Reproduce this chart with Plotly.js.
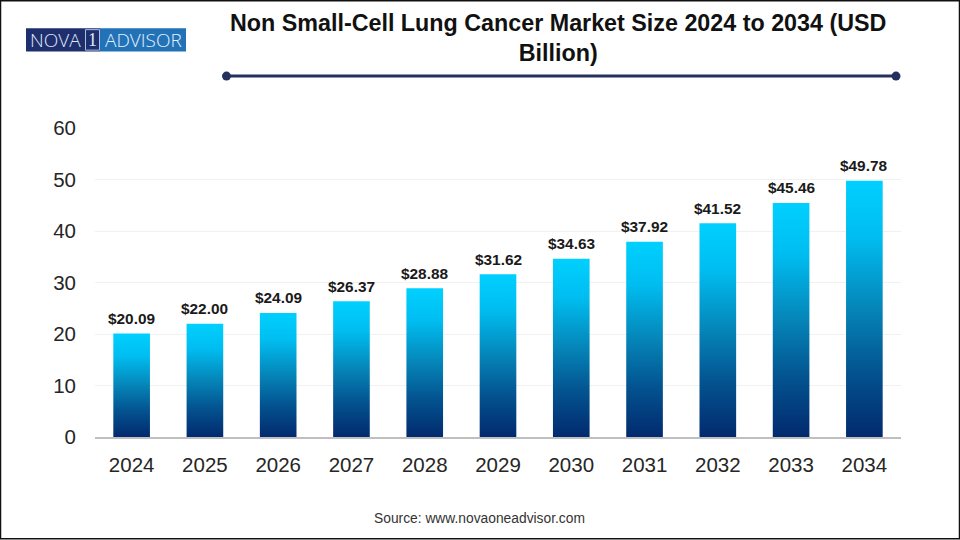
<!DOCTYPE html>
<html>
<head>
<meta charset="utf-8">
<script src="https://cdn.plot.ly/plotly-3.0.1.min.js"></script>
<style>html,body{margin:0;padding:0;background:#fff}#chart{width:960px;height:540px}</style>
</head>
<body>
<div id="chart"></div>
<script>
const years = ['2024','2025','2026','2027','2028','2029','2030','2031','2032','2033','2034'];
const marketSize = [20.09,22.00,24.09,26.37,28.88,31.62,34.63,37.92,41.52,45.46,49.78];
const valueLabels = ['$20.09','$22.00','$24.09','$26.37','$28.88','$31.62','$34.63','$37.92','$41.52','$45.46','$49.78'];
const yTicks = [0,10,20,30,40,50,60];
const titleText = 'Non Small-Cell Lung Cancer Market Size 2024 to 2034 (USD<br>Billion)';
const sourceText = 'Source: www.novaoneadvisor.com';
const font = '"Liberation Sans", Arial, sans-serif';
const navy = '#24305e';

const px = x => (x - 95) / 806;
const py = y => (437.5 - y) / 309.5;
const box = (type, x0, x1, y0, y1, extra) => Object.assign({type, xref:'paper', yref:'paper', x0:px(x0), x1:px(x1), y0:py(y0), y1:py(y1), layer:'above'}, extra);
const note = (text, x, y, f, extra) => Object.assign({text, xref:'paper', yref:'paper', x:px(x), y:py(y), xanchor:'center', yanchor:'middle', showarrow:false, font:f}, extra);

const trace = {
  type: 'bar', x: years, y: marketSize, width: 0.5,
  marker: {color: '#0a7fb5', line: {width: 0}},
  hoverinfo: 'x+y'
};

const barLabels = years.map((yr, i) => ({
  text: valueLabels[i], x: i, y: marketSize[i], xref:'x', yref:'y',
  xanchor:'center', yanchor:'middle', yshift: 15, showarrow:false,
  font:{family:font, size:15.4, color:'#1a1a1a', weight:700}
}));

const layout = {
  width: 960, height: 540, autosize: false, showlegend: false,
  paper_bgcolor: '#fff', plot_bgcolor: '#fff',
  margin: {l: 95, r: 59, t: 128, b: 102.5, pad: 0},
  font: {family: font},
  bargap: 0.5,
  xaxis: {
    type: 'category', categoryorder: 'array', categoryarray: years, range: [-0.5, 10.5],
    showgrid: false, zeroline: false,
    showline: true, linecolor: '#bfbfbf', linewidth: 2,
    ticks: '', ticklabelstandoff: 8,
    tickfont: {family: font, size: 20.5, color: '#262626'}
  },
  yaxis: {
    range: [0, 60], tickvals: yTicks, showgrid: true,
    gridcolor: '#f1f1f1', gridwidth: 1, zeroline: false,
    showline: false, ticks: '', ticklabelstandoff: 18,
    tickfont: {family: font, size: 20.5, color: '#262626'}
  },
  shapes: [
    box('rect', 0.5, 959.5, 0.5, 539.5, {line:{color:'#111', width:1.5}, fillcolor:'rgba(0,0,0,0)'}),
    box('line', 226, 896, 76, 76, {line:{color:navy, width:3}}),
    box('circle', 222, 231, 71.5, 80.5, {fillcolor:navy, line:{width:0}}),
    box('circle', 891.5, 900.5, 71.5, 80.5, {fillcolor:navy, line:{width:0}}),
    box('rect', 26, 100, 28, 51.5, {fillcolor:'#1f2f6e', line:{width:0}}),
    box('rect', 100, 186, 28, 51.5, {fillcolor:'#2272b8', line:{width:0}}),
    box('rect', 85.5, 99.5, 29.5, 50, {fillcolor:'rgba(0,0,0,0)', line:{color:'#a9bfe6', width:1}})
  ],
  annotations: [
    note(titleText, 558, 38, {family:font, size:23.3, color:'#111', weight:700}, {align:'center'}),
    note(sourceText, 479, 519, {family:font, size:13.8, color:'#333'}),
    note('NOVA', 55.5, 40, {family:'"Open Sans", sans-serif', size:19, color:'#dfe8f7', weight:300}),
    note('1', 92.5, 40, {family:'"Liberation Serif", serif', size:18, color:'#dfe8f7'}),
    note('ADVISOR', 143.5, 40, {family:'"Open Sans", sans-serif', size:19, color:'#e6f0fb', weight:300})
  ].concat(barLabels)
};

const gd = document.getElementById('chart');
function paintGradient() {
  const svg = gd.querySelector('.main-svg');
  if (!svg) return;
  const NS = 'http://www.w3.org/2000/svg';
  if (!document.getElementById('barGrad')) {
    const defs = svg.querySelector('defs') || svg.insertBefore(document.createElementNS(NS, 'defs'), svg.firstChild);
    const g = document.createElementNS(NS, 'linearGradient');
    g.id = 'barGrad';
    g.setAttribute('x1','0'); g.setAttribute('x2','0'); g.setAttribute('y1','0'); g.setAttribute('y2','1');
    [['0','#00d0ff'],['0.22','#00bdf0'],['0.5','#0585b8'],['0.75','#03528f'],['1','#022a6e']].forEach(([o,c]) => {
      const s = document.createElementNS(NS,'stop');
      s.setAttribute('offset',o); s.setAttribute('stop-color',c); g.appendChild(s);
    });
    defs.appendChild(g);
  }
  gd.querySelectorAll('.barlayer .point path').forEach(p => { p.style.fill = 'url(#barGrad)'; });
}
Plotly.newPlot(gd, [trace], layout, {displayModeBar: false, responsive: false}).then(() => {
  paintGradient();
  gd.on('plotly_afterplot', paintGradient);
});
</script>
</body>
</html>
